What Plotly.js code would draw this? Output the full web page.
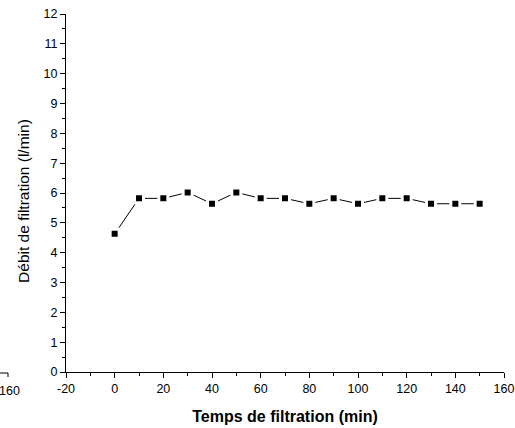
<!DOCTYPE html>
<html>
<head>
<meta charset="utf-8">
<script src="https://cdn.plot.ly/plotly-3.0.1.min.js"></script>
<style>html,body{margin:0;padding:0;background:#fff;}#chart{width:515px;height:428px;}</style>
</head>
<body>
<div id="chart"></div>
<script>
var timeMin = [0, 10, 20, 30, 40, 50, 60, 70, 80, 90, 100, 110, 120, 130, 140, 150];
var flowRate = [4.63, 5.82, 5.82, 6.02, 5.64, 6.02, 5.82, 5.82, 5.64, 5.82, 5.64, 5.82, 5.82, 5.64, 5.64, 5.64];
var xTicks = [-20, 0, 20, 40, 60, 80, 100, 120, 140, 160];
var yTicks = [0, 1, 2, 3, 4, 5, 6, 7, 8, 9, 10, 11, 12];

var font = 'Liberation Sans, Arial, sans-serif';

var trace = {
  x: timeMin, y: flowRate, type: 'scatter', mode: 'lines+markers',
  line: {color: '#000', width: 1},
  marker: {symbol: 'square', size: 9, color: '#000', line: {color: '#fff', width: 3}},
  cliponaxis: false
};

var layout = {
  width: 515, height: 428,
  margin: {l: 66, r: 11, t: 14, b: 56},
  paper_bgcolor: '#fff', plot_bgcolor: '#fff',
  showlegend: false,
  font: {family: font, color: '#000', size: 12.5},
  xaxis: {
    range: [-20, 160], tickvals: xTicks, ticktext: xTicks.map(String),
    showgrid: false, zeroline: false, showline: true, linecolor: '#000', linewidth: 1,
    ticks: 'outside', ticklen: 5, tickwidth: 1, tickcolor: '#000',
    minor: {dtick: 10, tick0: -10, ticks: 'outside', ticklen: 3, tickwidth: 1, tickcolor: '#000'},
    tickfont: {family: font, size: 12.5, color: '#000'},
    title: {text: '<b>Temps de filtration (min)</b>', font: {family: font, size: 16, color: '#000'}, standoff: 15}
  },
  yaxis: {
    range: [0, 12], tickvals: yTicks, ticktext: yTicks.map(String),
    showgrid: false, zeroline: false, showline: true, linecolor: '#000', linewidth: 1,
    ticks: 'outside', ticklen: 5, tickwidth: 1, tickcolor: '#000',
    minor: {dtick: 0.5, tick0: 0.5, ticks: 'outside', ticklen: 3, tickwidth: 1, tickcolor: '#000'},
    tickfont: {family: font, size: 12.5, color: '#000'}
  },
  shapes: [
    {type: 'line', xref: 'paper', yref: 'paper', x0: -66/438, x1: -58/438, y0: -1/358, y1: -1/358, line: {color: '#000', width: 1}},
    {type: 'line', xref: 'paper', yref: 'paper', x0: -58/438, x1: -58/438, y0: -1/358, y1: -5/358, line: {color: '#000', width: 1}}
  ],
  annotations: [
    {text: 'Débit de filtration (l/min)', textangle: -90, xref: 'paper', yref: 'paper', x: -42/438, y: 0.478, xanchor: 'center', yanchor: 'middle', showarrow: false, font: {family: font, size: 15.5, color: '#000'}},
    {text: '160', xref: 'paper', yref: 'paper', x: -57/438, y: -19/358, xanchor: 'center', yanchor: 'middle', showarrow: false, font: {family: font, size: 12.5, color: '#000'}}
  ]
};

Plotly.newPlot('chart', [trace], layout, {displayModeBar: false, staticPlot: true});
</script>
</body>
</html>
